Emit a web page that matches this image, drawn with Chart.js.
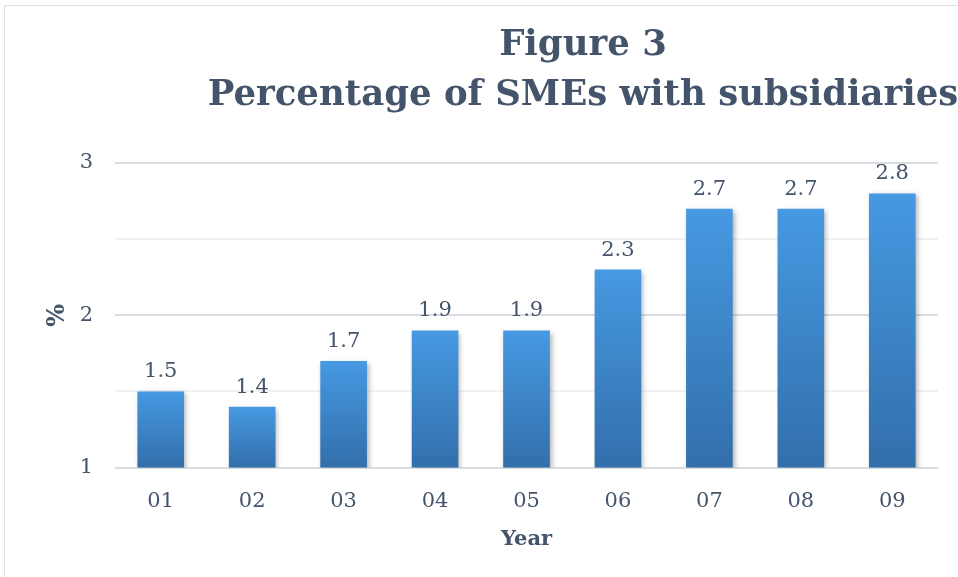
<!DOCTYPE html>
<html>
<head>
<meta charset="utf-8">
<script src="https://cdn.jsdelivr.net/npm/chart.js@4"></script>
<style>
  html, body { margin: 0; padding: 0; background: #fff; }
  #wrap { position: relative; width: 958px; height: 577px; }
</style>
</head>
<body>
<div id="wrap"><canvas id="sme-bar"></canvas></div>
<script>
const years = ['01', '02', '03', '04', '05', '06', '07', '08', '09'];
const shareWithSubsidiaries = [1.5, 1.4, 1.7, 1.9, 1.9, 2.3, 2.7, 2.7, 2.8];
const titleLines = ['Figure 3', 'Percentage of SMEs with subsidiaries'];
const yTicks = [1, 2, 3];

const textColor = '#44546a';
const serif = "'DejaVu Serif', serif";

// title + frame, drawn centred a bit right of the page like the original
const titlePlugin = {
  id: 'figTitle',
  beforeDraw(chart) {
    const ctx = chart.ctx;
    ctx.save();
    ctx.strokeStyle = '#dcdfe3';
    ctx.lineWidth = 1;
    ctx.strokeRect(4.5, 5.5, 1200, 1200);
    ctx.fillStyle = textColor;
    ctx.font = 'bold 35.5px ' + serif;
    ctx.textAlign = 'center';
    ctx.textBaseline = 'alphabetic';
    ctx.fillText(titleLines[0], 583, 55);
    ctx.fillText(titleLines[1], 583, 105);
    ctx.restore();
  },
};

// value labels above bars
const valueLabels = {
  id: 'valueLabels',
  afterDatasetsDraw(chart) {
    const ctx = chart.ctx;
    const meta = chart.getDatasetMeta(0);
    ctx.save();
    ctx.fillStyle = textColor;
    ctx.font = '21px ' + serif;
    ctx.textAlign = 'center';
    ctx.textBaseline = 'bottom';
    meta.data.forEach((bar, i) => {
      ctx.fillText(shareWithSubsidiaries[i].toFixed(1), bar.x, bar.y - 9);
    });
    ctx.restore();
  },
};

// soft shadow under the bars
const barShadow = {
  id: 'barShadow',
  beforeDatasetDraw(chart) {
    const ctx = chart.ctx;
    ctx.save();
    ctx.shadowColor = 'rgba(0,0,0,0.3)';
    ctx.shadowBlur = 5;
    ctx.shadowOffsetX = 2;
    ctx.shadowOffsetY = 2;
  },
  afterDatasetDraw(chart) {
    chart.ctx.restore();
  },
};

function barGradient(context) {
  const chart = context.chart;
  if (!chart.chartArea) return '#4598e0';
  const y = chart.scales.y;
  const v = context.raw;
  const top = y.getPixelForValue(v);
  const bottom = y.getPixelForValue(1);
  const g = chart.ctx.createLinearGradient(0, top, 0, bottom);
  g.addColorStop(0, '#4699e2');
  g.addColorStop(1, '#326fab');
  return g;
}

new Chart(document.getElementById('sme-bar'), {
  type: 'bar',
  data: {
    labels: years,
    datasets: [
      {
        data: shareWithSubsidiaries,
        backgroundColor: barGradient,
        borderWidth: 0,
        barPercentage: 0.51,
        categoryPercentage: 1,
      },
    ],
  },
  options: {
    responsive: true,
    maintainAspectRatio: false,
    animation: false,
    layout: {
      padding: { top: 163, right: 20, left: 41, bottom: 21 },
    },
    plugins: {
      legend: { display: false },
      tooltip: { enabled: false },
    },
    scales: {
      x: {
        grid: { display: false },
        border: { display: false },
        ticks: { color: textColor, font: { family: serif, size: 21 }, padding: 13 },
        title: {
          display: true,
          text: 'Year',
          color: textColor,
          font: { family: serif, size: 21, weight: 'bold' },
          padding: { top: 0 },
        },
      },
      y: {
        min: 1,
        max: 3,
        border: { display: false },
        afterFit: (scale) => {
          scale.width = 74;
        },
        grid: {
          color: (c) => (yTicks.includes(c.tick.value) ? '#d9dde3' : '#f1f2f4'),
          lineWidth: 2,
          drawTicks: false,
        },
        ticks: {
          stepSize: 0.5,
          color: textColor,
          font: { family: serif, size: 21 },
          padding: 22,
          callback: (v) => (yTicks.includes(v) ? String(v) : ''),
        },
        title: {
          display: true,
          text: '%',
          color: textColor,
          font: { family: serif, size: 24, weight: 'bold' },
          padding: { top: 2, bottom: 4 },
        },
      },
    },
  },
  plugins: [titlePlugin, valueLabels, barShadow],
});
</script>
</body>
</html>
